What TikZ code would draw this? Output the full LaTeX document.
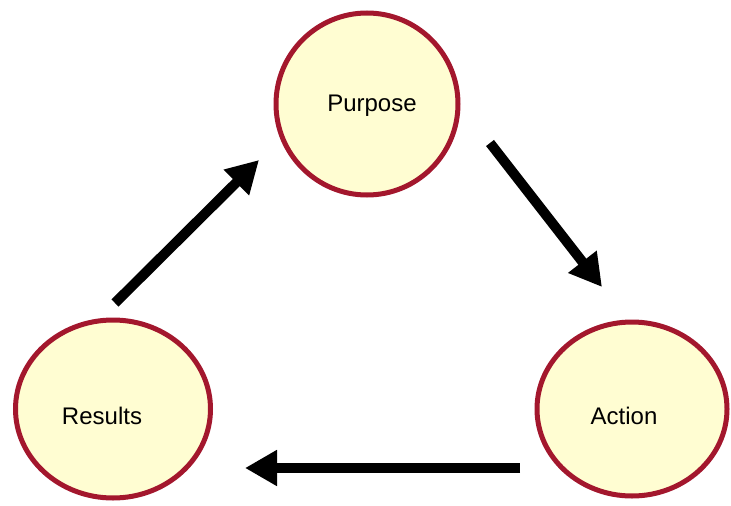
\documentclass[tikz,border=0pt]{standalone}
\usepackage{fontspec}
\setmainfont{Liberation Sans}
\usetikzlibrary{arrows.meta}
\definecolor{ringred}{HTML}{A3172D}
\definecolor{ringfill}{HTML}{FFFDD2}
\tikzset{
  stage/.style={ellipse, draw=ringred, line width=5pt, fill=ringfill, inner sep=0pt, font=\fontsize{24}{28}\selectfont},
  flow/.style={line width=10pt, -{Triangle[width=34pt,length=32pt]}}
}
\usetikzlibrary{shapes.geometric}
\begin{document}
\begin{tikzpicture}[x=1pt,y=-1pt]
\useasboundingbox (0,0) rectangle (731,506);
\node[stage, minimum width=182pt, minimum height=182pt] (P) at (367,104) {};
\node[stage, minimum width=195pt, minimum height=178pt] (R) at (113,409) {};
\node[stage, minimum width=190pt, minimum height=174pt] (A) at (632,409) {};
\node[font=\fontsize{24}{28}\selectfont] (tP) at (372,106) {Purpose};
\node[font=\fontsize{24}{28}\selectfont] (tR) at (102,416) {Results};
\node[font=\fontsize{24}{28}\selectfont] (tA) at (624,416) {Action};
\coordinate (r1) at (115,303);
\coordinate (p1) at (259,160);
\coordinate (p2) at (490,143);
\coordinate (a2) at (602,287);
\coordinate (a3) at (520,468);
\coordinate (r3) at (245,468);
\draw[flow] (r1) -- (p1);
\draw[flow] (p2) -- (a2);
\draw[flow] (a3) -- (r3);
\end{tikzpicture}
\end{document}
